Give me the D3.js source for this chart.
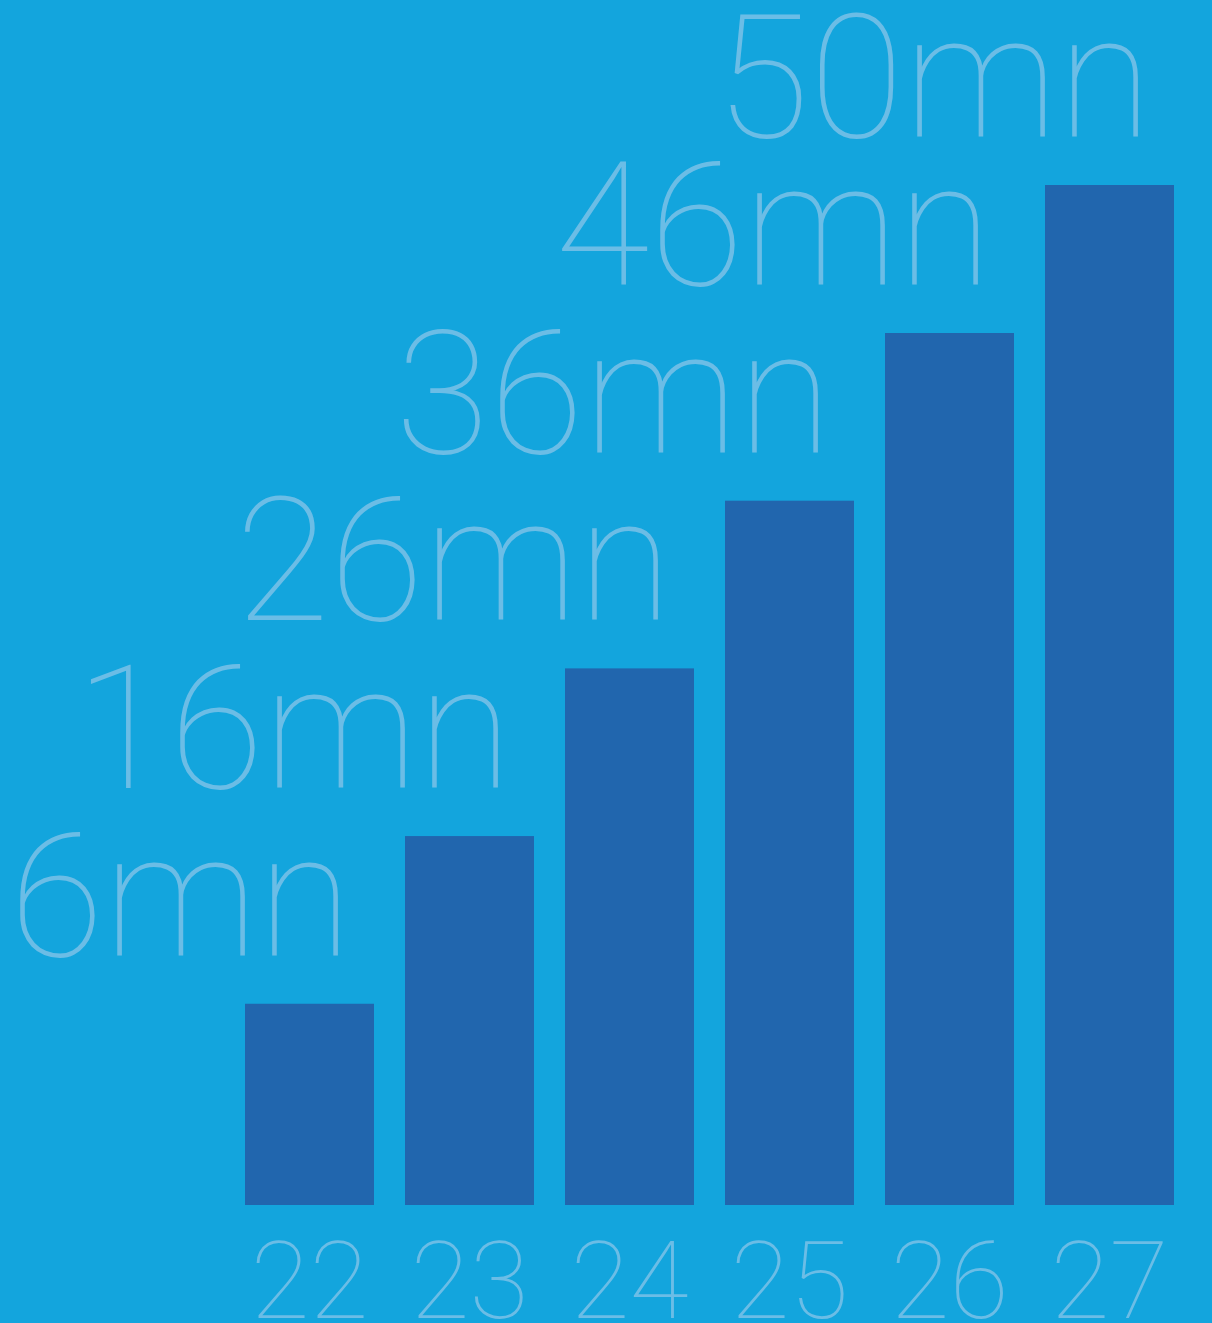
<!DOCTYPE html>
<html>
<head>
<meta charset="utf-8">
<script src="https://cdn.jsdelivr.net/npm/d3@7"></script>
<style>
html,body{margin:0;padding:0;background:#13a5dd;overflow:hidden;}
svg{display:block;}
</style>
</head>
<body>
<div id="chart"></div>
<script>
const categories = ["22","23","24","25","26","27"];
const values = [6, 16, 26, 36, 46, 50];
const valueLabels = ["6mn","16mn","26mn","36mn","46mn","50mn"];

const W = 1212, H = 1323;
const svg = d3.select("#chart").append("svg").attr("width", W).attr("height", H);
svg.append("rect").attr("width", W).attr("height", H).attr("fill", "#13a5dd");

const x = d3.scaleBand().domain(categories).range([245, 1174]).paddingInner(31/160).paddingOuter(0);
// infographic uses a non-zero, piecewise baseline
const y = d3.scaleLinear().domain([-6, 46, 50]).range([1205, 333, 185]);

svg.selectAll("rect.bar").data(values).join("rect")
  .attr("class","bar")
  .attr("x", (d,i) => x(categories[i]))
  .attr("y", d => y(d))
  .attr("width", x.bandwidth())
  .attr("height", d => y(-6) - y(d))
  .attr("fill", "#2166ae");

const txtColor = "#6bbde6";
svg.selectAll("text.val").data(values).join("text")
  .attr("class","val")
  .attr("x", (d,i) => x(categories[i]) + x.bandwidth() - 22)
  .attr("y", d => y(d) - 48)
  .attr("text-anchor","end")
  .attr("font-family","Roboto")
  .attr("font-weight",100)
  .attr("font-size",172)
  .attr("fill", txtColor)
  .text((d,i) => valueLabels[i]);

const xAxis = d3.axisBottom(x).tickSize(0).tickPadding(0);
const gx = svg.append("g").attr("transform","translate(0,1318)").call(xAxis);
gx.select(".domain").remove();
gx.selectAll("text")
  .attr("dy", 0)
  .attr("font-family","Roboto")
  .attr("font-weight",100)
  .attr("font-size",108)
  .attr("fill", txtColor);
</script>
</body>
</html>
